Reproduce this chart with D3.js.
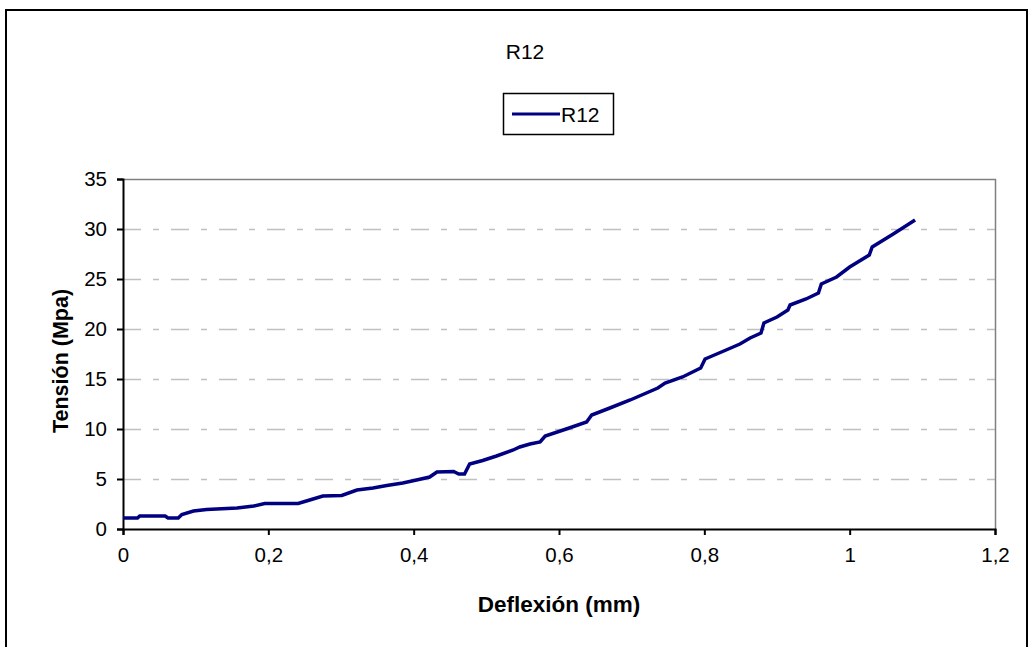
<!DOCTYPE html>
<html>
<head>
<meta charset="utf-8">
<script src="https://cdn.jsdelivr.net/npm/d3@7"></script>
<style>
  body { margin: 0; background: #fff; }
  text { font-family: "Liberation Sans", Arial, sans-serif; }
</style>
</head>
<body>
<div id="chart"></div>
<script>
// R12 test readings
var deflexion = [0, 0.02, 0.023, 0.058, 0.062, 0.076, 0.081, 0.097, 0.115, 0.157, 0.18, 0.195, 0.241, 0.257,
  0.275, 0.301, 0.322, 0.344, 0.363, 0.385, 0.404, 0.422, 0.432, 0.455, 0.462, 0.47, 0.477, 0.495, 0.514,
  0.537, 0.546, 0.56, 0.574, 0.581, 0.61, 0.638, 0.645, 0.67, 0.698, 0.736, 0.746, 0.77, 0.795, 0.801,
  0.83, 0.849, 0.863, 0.878, 0.882, 0.9, 0.915, 0.918, 0.94, 0.957, 0.961, 0.982, 1.0, 1.027, 1.031,
  1.06, 1.09];
var tension = [1.1, 1.1, 1.3, 1.3, 1.1, 1.1, 1.45, 1.8, 1.95, 2.1, 2.3, 2.55, 2.55, 2.9,
  3.3, 3.35, 3.9, 4.1, 4.35, 4.6, 4.9, 5.2, 5.7, 5.75, 5.5, 5.5, 6.5, 6.85, 7.3,
  7.9, 8.2, 8.5, 8.7, 9.3, 10.0, 10.7, 11.4, 12.1, 12.9, 14.1, 14.6, 15.2, 16.1, 17.0,
  17.9, 18.5, 19.1, 19.6, 20.6, 21.2, 21.9, 22.4, 23.0, 23.6, 24.5, 25.2, 26.2, 27.4, 28.2,
  29.5, 30.9];
var xTicks = [0, 0.2, 0.4, 0.6, 0.8, 1, 1.2];
var yTicks = [0, 5, 10, 15, 20, 25, 30, 35];
var seriesName = "R12";

drawChart();

function drawChart() {
  var W = 1029, H = 647;
  var svg = d3.select("#chart").append("svg").attr("width", W).attr("height", H);

  // chart area border
  svg.append("rect").attr("x", 6).attr("y", 10).attr("width", 1021).attr("height", 700)
    .attr("fill", "#fff").attr("stroke", "#000").attr("stroke-width", 2);

  var left = 123, right = 995, top = 179, bottom = 529;
  var x = d3.scaleLinear().domain([0, 1.2]).range([left, right]);
  var y = d3.scaleLinear().domain([0, 35]).range([bottom, top]);
  var fmt = function(d) { return String(d).replace(".", ","); };

  // title
  svg.append("text").attr("x", 525).attr("y", 59).attr("text-anchor", "middle")
    .style("font-size", "21px").text(seriesName);

  // legend
  var leg = svg.append("g");
  leg.append("rect").attr("x", 503.5).attr("y", 93.5).attr("width", 110).attr("height", 41)
    .attr("fill", "#fff").attr("stroke", "#000").attr("stroke-width", 1.5);
  leg.append("line").attr("x1", 512).attr("x2", 560).attr("y1", 114).attr("y2", 114)
    .attr("stroke", "#000080").attr("stroke-width", 3);
  leg.append("text").attr("x", 561).attr("y", 122).style("font-size", "21px").text(seriesName);

  // gridlines
  svg.append("g").selectAll("line").data(yTicks.filter(function(d) { return d > 0 && d < 35; }))
    .enter().append("line")
    .attr("x1", left).attr("x2", right)
    .attr("y1", function(d) { return y(d) + 0.5; }).attr("y2", function(d) { return y(d) + 0.5; })
    .attr("stroke", "#c0c0c0").attr("stroke-width", 1.5).attr("stroke-dasharray", "18,12,6,12");

  // plot frame top/right
  svg.append("path").attr("d", "M" + left + "," + (top + 0.5) + "H" + (right + 0.5) + "V" + bottom)
    .attr("fill", "none").attr("stroke", "#808080").attr("stroke-width", 1.5);

  // axes
  var xAxis = svg.append("g").attr("transform", "translate(0," + bottom + ")")
    .call(d3.axisBottom(x).tickValues(xTicks).tickFormat(fmt).tickSize(6).tickPadding(12));
  var yAxis = svg.append("g").attr("transform", "translate(" + left + ",0)")
    .call(d3.axisLeft(y).tickValues(yTicks).tickSize(6).tickPadding(10));
  [xAxis, yAxis].forEach(function(a) {
    a.select(".domain").attr("stroke", "#000").attr("stroke-width", 2);
    a.selectAll(".tick line").attr("stroke", "#000").attr("stroke-width", 2);
    a.selectAll(".tick text").style("font-size", "20.5px").style("font-family", "Liberation Sans, Arial, sans-serif")
      .attr("fill", "#000");
  });

  // data line
  var data = deflexion.map(function(d, i) { return [d, tension[i]]; });
  var line = d3.line().x(function(d) { return x(d[0]); }).y(function(d) { return y(d[1]); });
  svg.append("path").datum(data).attr("d", line)
    .attr("fill", "none").attr("stroke", "#000080").attr("stroke-width", 3.5)
    .attr("stroke-linejoin", "miter");

  // axis titles
  svg.append("text").attr("x", 559).attr("y", 612).attr("text-anchor", "middle")
    .style("font-size", "22.5px").style("font-weight", "bold").text("Deflexión (mm)");
  svg.append("text").attr("transform", "translate(68,361) rotate(-90)").attr("text-anchor", "middle")
    .style("font-size", "21.5px").style("font-weight", "bold").text("Tensión (Mpa)");
}
</script>
</body>
</html>
